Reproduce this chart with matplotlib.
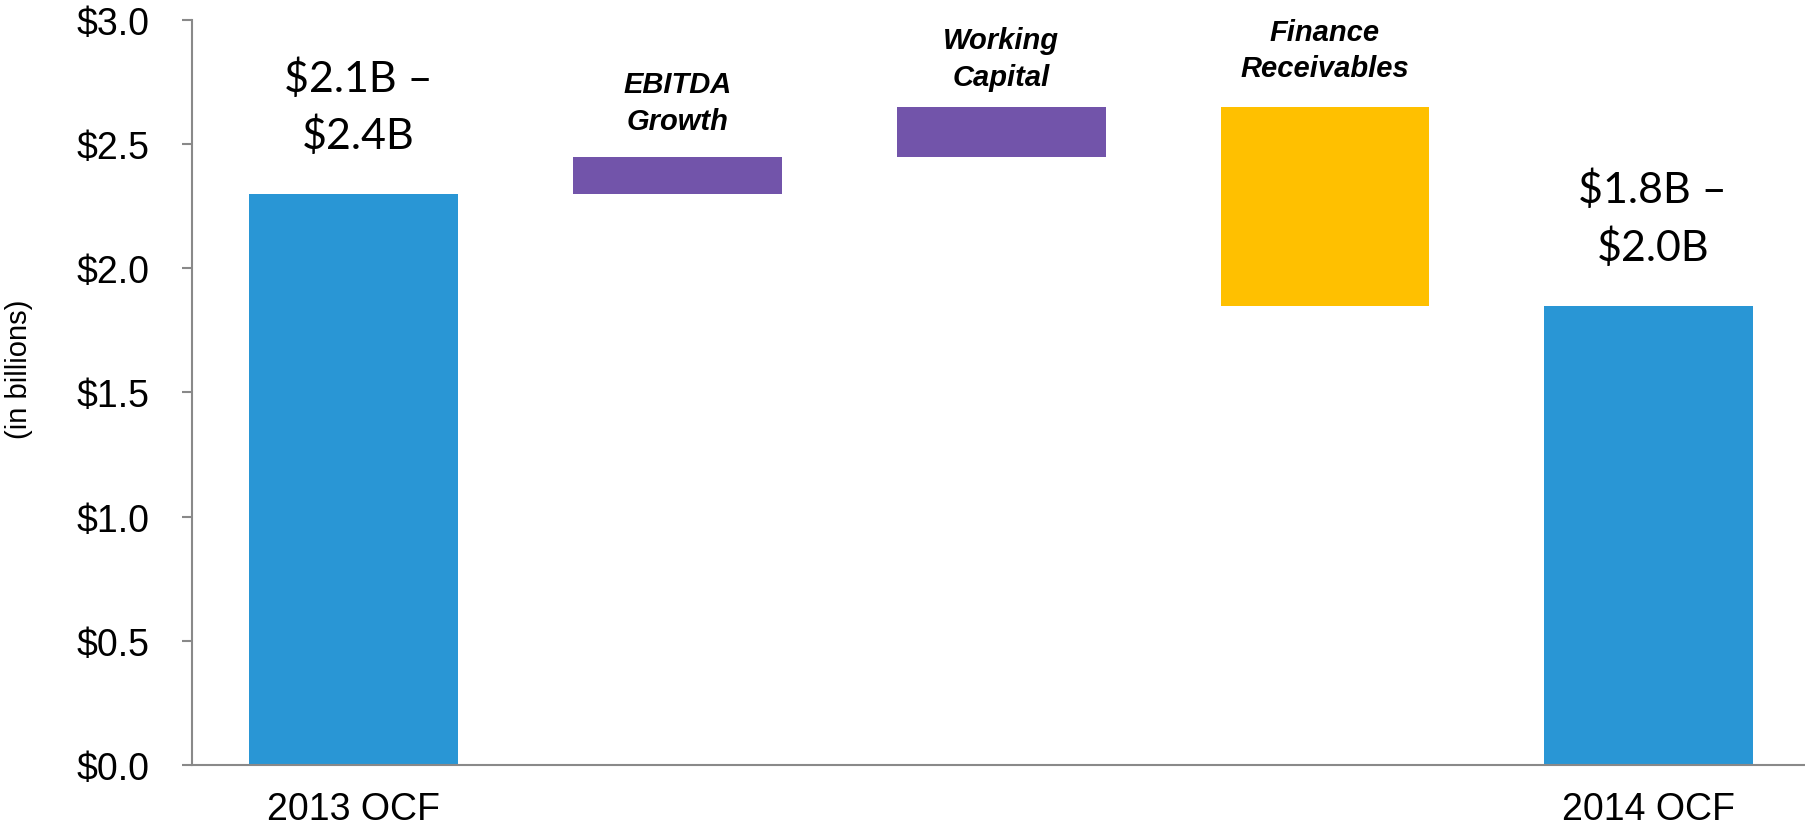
import numpy as np
import matplotlib
matplotlib.use("Agg")
import matplotlib.pyplot as plt

# Chart data (in billions)
categories = ['2013 OCF', 'EBITDA\nGrowth', 'Working\nCapital', 'Finance\nReceivables', '2014 OCF']
bar_bottoms = [0.0, 2.30, 2.45, 1.85, 0.0]
bar_tops = [2.30, 2.45, 2.65, 2.65, 1.85]
bar_kinds = ['total', 'up', 'up', 'down', 'total']
total_labels = ['$2.1B \u2013\n$2.4B', '$1.8B \u2013\n$2.0B']
y_ticks = [0.0, 0.5, 1.0, 1.5, 2.0, 2.5, 3.0]

colors = {'total': '#2996D5', 'up': '#7254AA', 'down': '#FFC000'}
axis_gray = '#898989'

plt.rcParams['font.family'] = ['Liberation Sans', 'DejaVu Sans']

fig = plt.figure(figsize=(18.06, 8.28), dpi=100)
ax = fig.add_axes([0.1063, 0.0752, 0.8937, 0.8994])

x = np.arange(len(categories))
heights = np.array(bar_tops) - np.array(bar_bottoms)
bar_colors = [colors[k] for k in bar_kinds]
ax.bar(x, heights, bottom=bar_bottoms, width=0.645, color=bar_colors, linewidth=0)

# Axes styling
ax.set_xlim(-0.5, 4.486)
ax.set_ylim(0, 3.0)
ax.set_yticks(y_ticks)
ax.set_yticklabels(['${:.1f}'.format(v) for v in y_ticks])
ax.tick_params(axis='y', length=7.5, width=1.5, color=axis_gray, pad=23, labelsize=27)
ax.tick_params(axis='x', length=0, pad=19, labelsize=27)
ax.set_xticks([0, 4])
ax.set_xticklabels([categories[0], categories[4]])
for side in ['top', 'right']:
    ax.spines[side].set_visible(False)
for side in ['left', 'bottom']:
    ax.spines[side].set_color(axis_gray)
    ax.spines[side].set_linewidth(1.5)

fig.text(19 / 1806, 1 - 369 / 828, '(in billions)', rotation=90,
         ha='center', va='center', fontsize=21)

# Range labels over the total bars
total_idx = [i for i, k in enumerate(bar_kinds) if k == 'total']
for i, label in zip(total_idx, total_labels):
    ax.annotate(label, (x[i], bar_tops[i]), xytext=(3, 33), textcoords='offset points',
                ha='center', va='baseline', fontsize=31, family=['Lato', 'DejaVu Sans'],
                linespacing=1.5)

# Italic labels over the bridge bars
label_offsets = [20, 16, 22]
for i, off in zip(range(1, 4), label_offsets):
    top = max(bar_tops[i], bar_bottoms[i])
    ax.annotate(categories[i], (x[i], top), xytext=(0, off), textcoords='offset points',
                ha='center', va='baseline', fontsize=21, fontweight='bold',
                fontstyle='italic', linespacing=1.4)

fig.savefig('out.png', dpi=100)
